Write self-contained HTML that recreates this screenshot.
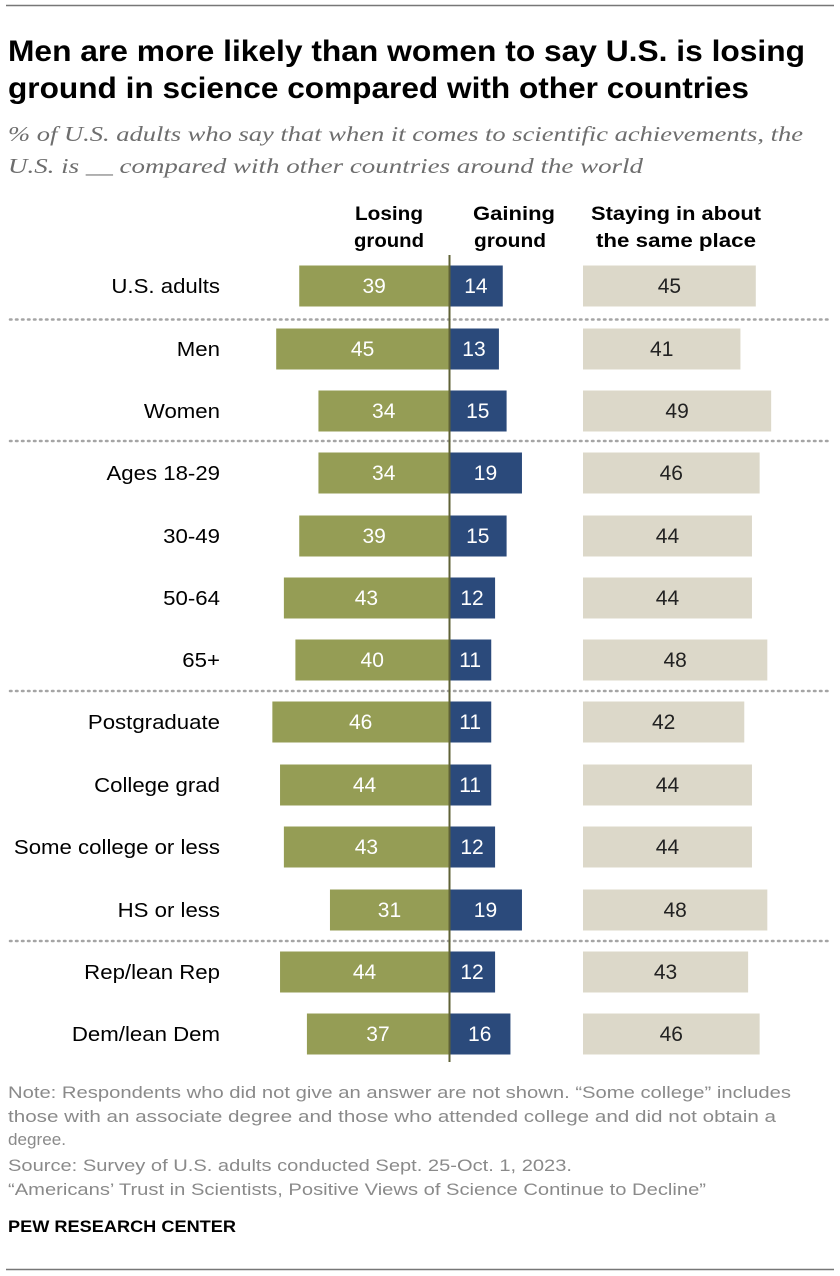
<!DOCTYPE html>
<html><head><meta charset="utf-8"><style>
html,body{margin:0;padding:0;background:#fff;}
svg{display:block;}
text{font-family:"Liberation Sans",sans-serif;}
.t{font-weight:bold;font-size:30px;fill:#000;}
.s{font-family:"Liberation Serif",serif;font-style:italic;font-size:21px;fill:#6e6e6e;}
.h{font-weight:bold;font-size:19px;fill:#000;text-anchor:middle;}
.l{font-size:20px;fill:#000;text-anchor:end;}
.v{font-size:21px;text-anchor:middle;}
.n{font-size:17px;fill:#8a8a8a;}
</style></head><body>
<svg id="sv" width="840" height="1276" viewBox="0 0 840 1276" xmlns="http://www.w3.org/2000/svg">
<line x1="6" y1="5.5" x2="834" y2="5.5" stroke="#777" stroke-width="1.5"/>
<text class="t" x="8" y="61" textLength="797" lengthAdjust="spacingAndGlyphs">Men are more likely than women to say U.S. is losing</text>
<text class="t" x="8" y="98" textLength="741" lengthAdjust="spacingAndGlyphs">ground in science compared with other countries</text>
<text class="s" x="8" y="141" textLength="795" lengthAdjust="spacingAndGlyphs">% of U.S. adults who say that when it comes to scientific achievements, the</text>
<text class="s" x="8" y="173" textLength="635" lengthAdjust="spacingAndGlyphs">U.S. is __ compared with other countries around the world</text>
<text class="h" x="389" y="220" textLength="68" lengthAdjust="spacingAndGlyphs">Losing</text>
<text class="h" x="389" y="247" textLength="70" lengthAdjust="spacingAndGlyphs">ground</text>
<text class="h" x="514" y="220" textLength="82" lengthAdjust="spacingAndGlyphs">Gaining</text>
<text class="h" x="510" y="247" textLength="72" lengthAdjust="spacingAndGlyphs">ground</text>
<text class="h" x="676" y="220" textLength="170" lengthAdjust="spacingAndGlyphs">Staying in about</text>
<text class="h" x="676" y="247" textLength="160" lengthAdjust="spacingAndGlyphs">the same place</text>
<g stroke="#a5a5a5" stroke-width="2.5" stroke-dasharray="1.5,4.5" stroke-linecap="round">
<line x1="10" y1="319.5" x2="830" y2="319.5"/>
<line x1="10" y1="441" x2="830" y2="441"/>
<line x1="10" y1="691" x2="830" y2="691"/>
<line x1="10" y1="941" x2="830" y2="941"/>
</g>
<g id="rows"></g>
<line x1="449.5" y1="255" x2="449.5" y2="1062" stroke="#5f6236" stroke-width="2"/>
<text class="n" x="8" y="1098" textLength="783" lengthAdjust="spacingAndGlyphs">Note: Respondents who did not give an answer are not shown. “Some college” includes</text>
<text class="n" x="8" y="1122" textLength="768" lengthAdjust="spacingAndGlyphs">those with an associate degree and those who attended college and did not obtain a</text>
<text class="n" x="8" y="1145" textLength="58" lengthAdjust="spacingAndGlyphs">degree.</text>
<text class="n" x="8" y="1171" textLength="564" lengthAdjust="spacingAndGlyphs">Source: Survey of U.S. adults conducted Sept. 25-Oct. 1, 2023.</text>
<text class="n" x="8" y="1195" textLength="698" lengthAdjust="spacingAndGlyphs">“Americans’ Trust in Scientists, Positive Views of Science Continue to Decline”</text>
<text x="8" y="1232" style="font-weight:bold;font-size:17px;fill:#000" textLength="228" lengthAdjust="spacingAndGlyphs">PEW RESEARCH CENTER</text>
<line x1="6" y1="1269.5" x2="834" y2="1269.5" stroke="#777" stroke-width="1.5"/>
</svg>
<script>
var d=[["U.S. adults",39,14,45,286],["Men",45,13,41,349],["Women",34,15,49,411],["Ages 18-29",34,19,46,473],["30-49",39,15,44,536],["50-64",43,12,44,598],["65+",40,11,48,660],["Postgraduate",46,11,42,722],["College grad",44,11,44,785],["Some college or less",43,12,44,847],["HS or less",31,19,48,910],["Rep/lean Rep",44,12,43,972],["Dem/lean Dem",37,16,46,1034]];
var k=3.84,c=449,s="",h=41;
d.forEach(function(r){var y=r[4]-20.5,g=r[1]*k,b=r[2]*k,e=r[3]*k;
s+='<text class="l lab" x="220" y="'+(r[4]+7)+'">'+r[0]+'</text>';
s+='<rect x="'+(c-g)+'" y="'+y+'" width="'+g+'" height="'+h+'" fill="#959d55"/>';
s+='<rect x="'+c+'" y="'+y+'" width="'+b+'" height="'+h+'" fill="#2b4a7b"/>';
s+='<rect x="583" y="'+y+'" width="'+e+'" height="'+h+'" fill="#dcd8c9"/>';
s+='<text class="v" fill="#fff" x="'+(c-g/2)+'" y="'+(r[4]+7)+'">'+r[1]+'</text>';
s+='<text class="v" fill="#fff" x="'+(c+b/2)+'" y="'+(r[4]+7)+'">'+r[2]+'</text>';
s+='<text class="v" fill="#222" x="'+(583+e/2)+'" y="'+(r[4]+7)+'">'+r[3]+'</text>';});
document.getElementById("rows").innerHTML=s;
var labs=document.querySelectorAll(".lab");
for(var i=0;i<labs.length;i++){var w=labs[i].getComputedTextLength();labs[i].setAttribute("textLength",(w*1.11).toFixed(1));labs[i].setAttribute("lengthAdjust","spacingAndGlyphs");}
</script>
</body></html>
